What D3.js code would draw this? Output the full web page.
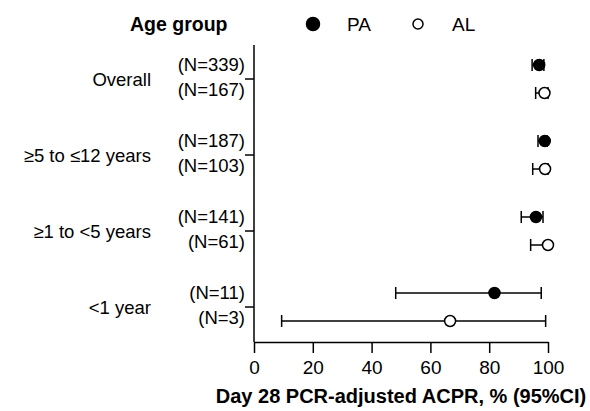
<html>
<head>
<script src="https://d3js.org/d3.v7.min.js"></script>
<style>
  body { margin: 0; background: #fff; }
  text { font-family: "Liberation Sans", Arial, sans-serif; fill: #000; }
  .axis path, .axis line { stroke: #000; stroke-width: 1.5; }
</style>
</head>
<body>
<svg width="590" height="411"></svg>
<script>
const groups = ['Overall', '≥5 to ≤12 years', '≥1 to <5 years', '<1 year'];
const nPA = [339, 187, 141, 11];
const nAL = [167, 103, 61, 3];
const estPA = [97.0, 98.9, 95.9, 81.8];
const lowPA = [94.6, 96.6, 90.9, 48.2];
const highPA = [98.6, 99.7, 98.3, 97.7];
const estAL = [98.8, 99.0, 100, 66.7];
const lowAL = [95.8, 94.8, 94.1, 9.4];
const highAL = [100, 100, 100, 99.2];
const xTicks = [0, 20, 40, 60, 80, 100];

const svg = d3.select('svg');

const x = d3.scaleLinear().domain([0, 100]).range([254, 548]);
const y = d3.scaleBand().domain(groups).range([41, 345]);
const mid = g => y(g) + y.bandwidth() / 2;
const off = 14;

const rows = [];
groups.forEach((g, i) => {
  rows.push({ g, arm: 'PA', n: nPA[i], est: estPA[i], lo: lowPA[i], hi: highPA[i], dy: -off, ldy: -14 });
  rows.push({ g, arm: 'AL', n: nAL[i], est: estAL[i], lo: lowAL[i], hi: highAL[i], dy: off, ldy: 11 });
});
const cy = d => mid(d.g) + d.dy;

// x axis
svg.append('g')
  .attr('class', 'axis')
  .attr('transform', 'translate(0,342)')
  .call(d3.axisBottom(x).tickValues(xTicks).tickSize(11).tickSizeOuter(0).tickPadding(8))
  .call(g => g.selectAll('text')
    .style('font-size', '19px')
    .style('font-family', '"Liberation Sans", Arial, sans-serif')
    .attr('fill', '#000'));

// y axis
svg.append('line')
  .attr('x1', x(0)).attr('x2', x(0))
  .attr('y1', 45).attr('y2', 342)
  .attr('stroke', '#000').attr('stroke-width', 1.5);

svg.append('g')
  .selectAll('line')
  .data(groups)
  .join('line')
  .attr('x1', x(0) - 9).attr('x2', x(0))
  .attr('y1', mid).attr('y2', mid)
  .attr('stroke', '#000').attr('stroke-width', 1.5);

// group labels
svg.append('g')
  .selectAll('text')
  .data(groups)
  .join('text')
  .attr('x', 151)
  .attr('y', d => mid(d) + 1)
  .attr('dy', '0.35em')
  .attr('text-anchor', 'end')
  .style('font-size', '18.5px')
  .text(d => d);

// N labels
svg.append('g')
  .selectAll('text')
  .data(rows)
  .join('text')
  .attr('x', 245)
  .attr('y', d => mid(d.g) + d.ldy)
  .attr('dy', '0.35em')
  .attr('text-anchor', 'end')
  .style('font-size', '18.5px')
  .text(d => '(N=' + d.n + ')');

// error bars
const eb = svg.append('g')
  .selectAll('g')
  .data(rows)
  .join('g')
  .attr('stroke', '#000')
  .attr('stroke-width', 1.5);

eb.append('line')
  .attr('x1', d => x(d.lo)).attr('x2', d => x(d.hi))
  .attr('y1', cy).attr('y2', cy);
eb.append('line')
  .attr('x1', d => x(d.lo)).attr('x2', d => x(d.lo))
  .attr('y1', d => cy(d) - 6).attr('y2', d => cy(d) + 6);
eb.append('line')
  .attr('x1', d => x(d.hi)).attr('x2', d => x(d.hi))
  .attr('y1', d => cy(d) - 6).attr('y2', d => cy(d) + 6);

// points
svg.append('g')
  .selectAll('circle')
  .data(rows)
  .join('circle')
  .attr('cx', d => x(d.est))
  .attr('cy', cy)
  .attr('r', 5.5)
  .attr('fill', d => d.arm === 'PA' ? '#000' : '#fff')
  .attr('stroke', '#000')
  .attr('stroke-width', 1.5);

// header + legend
svg.append('text')
  .attr('x', 130).attr('y', 24).attr('dy', '0.35em')
  .style('font-size', '19.5px').style('font-weight', 'bold')
  .text('Age group');

const legend = [{ arm: 'PA', cx: 313, r: 6.5 }, { arm: 'AL', cx: 418, r: 5 }];
svg.append('g')
  .selectAll('circle')
  .data(legend)
  .join('circle')
  .attr('cx', d => d.cx).attr('cy', 24).attr('r', d => d.r)
  .attr('fill', d => d.arm === 'PA' ? '#000' : '#fff')
  .attr('stroke', '#000').attr('stroke-width', 1.5);
svg.append('g')
  .selectAll('text')
  .data(legend)
  .join('text')
  .attr('x', d => d.cx + 34).attr('y', 24).attr('dy', '0.35em')
  .style('font-size', '19px')
  .text(d => d.arm);

// x title
svg.append('text')
  .attr('x', 401).attr('y', 396).attr('dy', '0.35em')
  .attr('text-anchor', 'middle')
  .style('font-size', '20px').style('font-weight', 'bold')
  .text('Day 28 PCR-adjusted ACPR, % (95%CI)');
</script>
</body>
</html>
